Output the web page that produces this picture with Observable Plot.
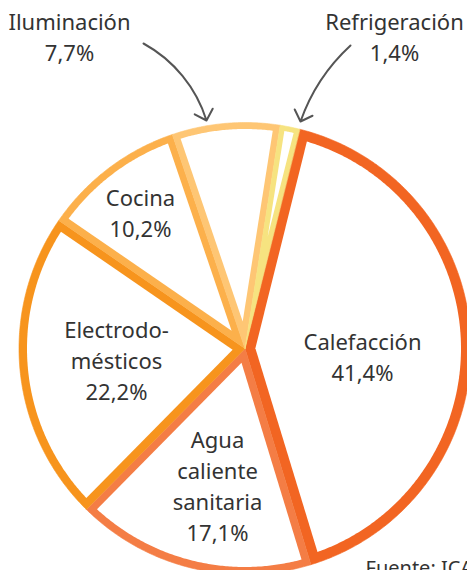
<!DOCTYPE html>
<html><head><meta charset="utf-8">
<script src="https://cdn.jsdelivr.net/npm/d3@7"></script>
<script src="https://cdn.jsdelivr.net/npm/@observablehq/plot@0.6"></script>
<style>html,body{margin:0;padding:0;background:#fff;overflow:hidden}svg{display:block;overflow:visible}</style>
</head><body><div id="chart"></div>
<script>
// ---- data ----
const categories = ["Calefacción", "Agua caliente sanitaria", "Electrodomésticos", "Cocina", "Iluminación", "Refrigeración"];
const shares = [41.4, 17.1, 22.2, 10.2, 7.7, 1.4];
const nameLines = ["Calefacción", "Agua\ncaliente\nsanitaria", "Electrodo-\nmésticos", "Cocina", "Iluminación", "Refrigeración"];
const shareLabels = ["41,4%", "17,1%", "22,2%", "10,2%", "7,7%", "1,4%"];
const colors = ["#f26522", "#f47d45", "#f7941d", "#fcb04b", "#fec674", "#f6e380"];
const source = "Fuente: ICAEN";

// ---- layout ----
const W = 467, H = 570, CX = 244.5, CY = 348, R = 226, START = 14;
const inset = [10, 7.5, 8, 7, 6.5, 5];             // inner stroke widths (px)
const labelAt = [[362, 327.5], [217, 425.5], [116, 315.5], [140, 183.5], [69, 7.5], [394, 7.5]]; // pixel x, top y
const arrowsIlum = [{x1: 143 - CX, y1: CY - 43, x2: 206 - CX, y2: CY - 120}];
const arrowsRef = [{x1: 350 - CX, y1: CY - 45, x2: 300 - CX, y2: CY - 121}];

const rad = Math.PI / 180;
const total = d3.sum(shares);
let acc = START;
const outer = [], inner = [];
categories.forEach((c, i) => {
  const a0 = acc * rad, a1 = (acc + shares[i] / total * 360) * rad;
  acc += shares[i] / total * 360;
  outer.push({slice: c, x: 0, y: 0});
  const n = Math.max(4, Math.ceil((a1 - a0) / rad * 2));
  for (let k = 0; k <= n; k++) {
    const t = a0 + (a1 - a0) * k / n;
    outer.push({slice: c, x: R * Math.sin(t), y: R * Math.cos(t)});
  }
  const w = inset[i], rr = R - w;
  const d = w / Math.sin((a1 - a0) / 2), m = (a0 + a1) / 2;
  if (d < rr) {
    const b0 = a0 + Math.asin(w / rr), b1 = a1 - Math.asin(w / rr);
    inner.push({slice: c, x: d * Math.sin(m), y: d * Math.cos(m)});
    for (let k = 0; k <= n; k++) {
      const t = b0 + (b1 - b0) * k / n;
      inner.push({slice: c, x: rr * Math.sin(t), y: rr * Math.cos(t)});
    }
  }
});

const labels = categories.map((c, i) => ({
  x: labelAt[i][0] - CX, y: CY - labelAt[i][1], text: nameLines[i] + "\n" + shareLabels[i]
}));

const chart = Plot.plot({
  width: W, height: H, margin: 0,
  x: {domain: [-CX, W - CX], axis: null},
  y: {domain: [CY - H, CY], axis: null},
  color: {domain: categories, range: colors},
  style: {fontFamily: "'Noto Sans', sans-serif", background: "#fff"},
  marks: [
    Plot.line(outer, {x: "x", y: "y", z: "slice", fill: "slice", stroke: "slice", strokeWidth: 0.6, curve: "linear-closed"}),
    Plot.line(inner, {x: "x", y: "y", z: "slice", fill: "white", stroke: "none", curve: "linear-closed"}),
    Plot.text(labels, {x: "x", y: "y", text: "text", lineAnchor: "top", fontSize: 22, lineHeight: 1.41, fill: "#333"}),
    Plot.text([source], {x: () => 365 - CX, y: () => CY - 574, text: d => d, textAnchor: "start", lineAnchor: "bottom", fontSize: 20, fill: "#333"}),
    Plot.arrow(arrowsIlum, {x1: "x1", y1: "y1", x2: "x2", y2: "y2", bend: 22, stroke: "#555", strokeWidth: 2, headLength: 10, headAngle: 90}),
    Plot.arrow(arrowsRef, {x1: "x1", y1: "y1", x2: "x2", y2: "y2", bend: -14, stroke: "#555", strokeWidth: 2, headLength: 10, headAngle: 90})
  ]
});
document.getElementById("chart").append(chart);
</script>
</body></html>
